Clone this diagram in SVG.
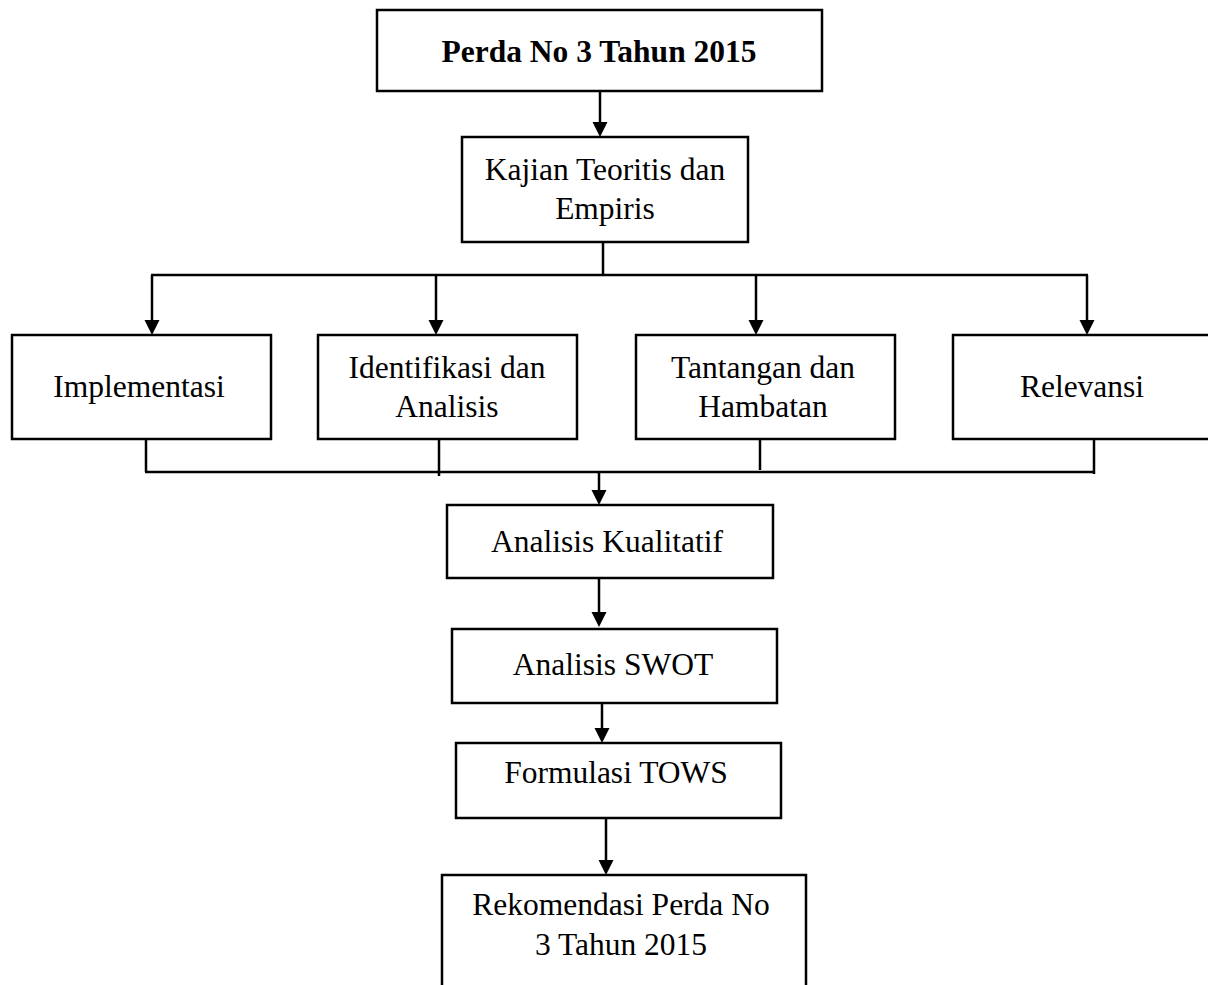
<svg xmlns="http://www.w3.org/2000/svg" width="1208" height="985" viewBox="0 0 1208 985">
<style>
  .box { fill: #ffffff; stroke: #000000; stroke-width: 2.5; }
  .ln { fill: none; stroke: #000000; stroke-width: 2.5; }
  .t { font-family: "Liberation Serif", "Times New Roman", serif; font-size: 31.5px; fill: #000000; text-anchor: middle; }
  .b { font-weight: bold; }
</style>
<defs>
  <marker id="ah" markerUnits="userSpaceOnUse" markerWidth="16" markerHeight="16" refX="11" refY="8" orient="auto">
    <path d="M0,0.5 L15,8 L0,15.5 z" fill="#000000"/>
  </marker>
</defs>
<rect x="0" y="0" width="1208" height="985" fill="#ffffff"/>
<g id="connectors">
  <line class="ln" x1="600" y1="91" x2="600" y2="133" marker-end="url(#ah)"/>
  <line class="ln" x1="603" y1="242" x2="603" y2="275"/>
  <line class="ln" x1="151" y1="275" x2="1088" y2="275"/>
  <line class="ln" x1="152" y1="275" x2="152" y2="331" marker-end="url(#ah)"/>
  <line class="ln" x1="436" y1="276" x2="436" y2="331" marker-end="url(#ah)"/>
  <line class="ln" x1="756" y1="276" x2="756" y2="331" marker-end="url(#ah)"/>
  <line class="ln" x1="1087" y1="275" x2="1087" y2="331" marker-end="url(#ah)"/>
  <line class="ln" x1="146" y1="440" x2="146" y2="472"/>
  <line class="ln" x1="439" y1="440" x2="439" y2="476"/>
  <line class="ln" x1="760" y1="440" x2="760" y2="470"/>
  <line class="ln" x1="1094" y1="436" x2="1094" y2="474"/>
  <line class="ln" x1="145" y1="472" x2="1095" y2="472"/>
  <line class="ln" x1="599" y1="472" x2="599" y2="501" marker-end="url(#ah)"/>
  <line class="ln" x1="599" y1="578" x2="599" y2="623" marker-end="url(#ah)"/>
  <line class="ln" x1="602" y1="703" x2="602" y2="739" marker-end="url(#ah)"/>
  <line class="ln" x1="606" y1="818" x2="606" y2="871" marker-end="url(#ah)"/>
</g>
<g id="perda">
  <rect class="box" x="377" y="10" width="445" height="81"/>
  <text class="t b" x="599" y="62">Perda No 3 Tahun 2015</text>
</g>
<g id="kajian">
  <rect class="box" x="462" y="137" width="286" height="105"/>
  <text class="t" x="605" y="180">Kajian Teoritis dan</text>
  <text class="t" x="605" y="219">Empiris</text>
</g>
<g id="implementasi">
  <rect class="box" x="12" y="335" width="259" height="104"/>
  <text class="t" x="139" y="397">Implementasi</text>
</g>
<g id="identifikasi">
  <rect class="box" x="318" y="335" width="259" height="104"/>
  <text class="t" x="447" y="378">Identifikasi dan</text>
  <text class="t" x="447" y="417">Analisis</text>
</g>
<g id="tantangan">
  <rect class="box" x="636" y="335" width="259" height="104"/>
  <text class="t" x="763" y="378">Tantangan dan</text>
  <text class="t" x="763" y="417">Hambatan</text>
</g>
<g id="relevansi">
  <rect class="box" x="953" y="335" width="260" height="104"/>
  <text class="t" x="1082" y="397">Relevansi</text>
</g>
<g id="kualitatif">
  <rect class="box" x="447" y="505" width="326" height="73"/>
  <text class="t" x="607" y="552">Analisis Kualitatif</text>
</g>
<g id="swot">
  <rect class="box" x="452" y="629" width="325" height="74"/>
  <text class="t" x="613" y="675">Analisis SWOT</text>
</g>
<g id="tows">
  <rect class="box" x="456" y="743" width="325" height="75"/>
  <text class="t" x="616" y="783">Formulasi TOWS</text>
</g>
<g id="rekomendasi">
  <rect class="box" x="442" y="875" width="364" height="120"/>
  <text class="t" x="621" y="915">Rekomendasi Perda No</text>
  <text class="t" x="621" y="955">3 Tahun 2015</text>
</g>
</svg>
